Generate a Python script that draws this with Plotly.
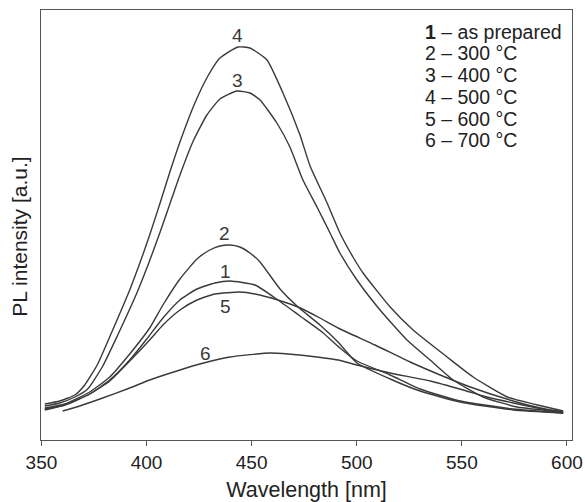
import plotly.graph_objects as go

# Wavelength [nm] and PL intensity [a.u.]
wl_1 = [351.6, 361.1, 373.0, 382.5, 392.0, 400.1, 407.8, 415.9, 424.0, 432.5, 439.7, 451.6, 462.5, 473.0, 483.5, 492.0, 500.1, 515.9, 530.1, 549.2, 574.4, 598.2]
pl_1 = [31, 35, 46, 60, 80, 101, 122, 140, 151, 157, 159, 155, 140, 124, 108, 92, 79, 65, 51, 39, 31, 27]

wl_2 = [351.6, 361.1, 373.0, 382.5, 392.0, 401.5, 407.8, 415.9, 424.0, 430.1, 434.9, 439.7, 444.4, 449.2, 454.0, 463.5, 472.1, 482.5, 491.1, 500.1, 515.9, 530.1, 549.2, 574.4, 598.2]
pl_2 = [32, 36, 48, 63, 86, 112, 135, 161, 181, 190, 194, 195, 193, 187, 178, 151, 133, 115, 98, 77, 61, 49, 38, 30, 27]

wl_3 = [351.6, 358.7, 365.9, 372.0, 379.2, 386.3, 395.4, 401.6, 406.3, 411.1, 415.9, 422.0, 428.7, 434.9, 443.0, 449.2, 454.0, 462.0, 468.2, 474.4, 481.1, 487.3, 492.0, 500.1, 511.1, 523.9, 534.9, 545.9, 560.1, 576.3, 598.2]
pl_3 = [34, 37, 43, 51, 74, 105, 147, 180, 207, 236, 265, 298, 325, 341, 349, 347, 340, 317, 293, 260, 233, 207, 187, 160, 130, 100, 80, 60, 43, 33, 28]

wl_4 = [351.6, 358.7, 365.9, 370.6, 376.8, 383.5, 392.0, 398.2, 401.5, 406.3, 411.1, 415.9, 423.0, 429.2, 434.9, 443.5, 449.2, 457.3, 464.9, 473.0, 477.8, 485.9, 492.0, 498.2, 503.0, 515.9, 526.8, 543.0, 555.4, 571.6, 585.9, 598.2]
pl_4 = [36, 39, 45, 55, 76, 108, 150, 185, 205, 236, 268, 298, 337, 364, 382, 393, 392, 380, 347, 305, 274, 237, 207, 183, 167, 133, 110, 83, 63, 43, 35, 29]

wl_5 = [351.6, 361.1, 373.0, 382.5, 392.0, 401.5, 407.8, 415.9, 424.0, 432.5, 444.4, 451.6, 462.5, 472.1, 482.5, 491.1, 508.7, 525.4, 539.7, 554.0, 574.4, 587.3, 598.2]
pl_5 = [30, 35, 46, 59, 79, 100, 115, 130, 140, 146, 148, 146, 140, 133, 122, 112, 95, 78, 65, 53, 39, 32, 28]

wl_6 = [360.1, 368.2, 377.8, 392.0, 401.5, 415.9, 425.4, 439.7, 458.7, 467.3, 481.1, 491.1, 500.1, 515.9, 534.9, 550.6, 562.0, 574.4, 590.6, 598.2]
pl_6 = [29, 34, 41, 52, 60, 70, 76, 83, 87, 86, 83, 80, 75, 67, 59, 50, 43, 37, 30, 27]

curve_names = ["1", "2", "3", "4", "5", "6"]
legend_lines = ["<b>1</b> – as prepared", "2 – 300 °C", "3 – 400 °C", "4 – 500 °C", "5 – 600 °C", "6 – 700 °C"]
x_ticks = [350, 400, 450, 500, 550, 600]

# curve label anchor points (data units)
label_wl = [437.8, 437.3, 443.4, 443.4, 437.8, 428.2]
label_pl = [169, 207, 360, 405, 134, 87]

series = [(wl_1, pl_1), (wl_2, pl_2), (wl_3, pl_3), (wl_4, pl_4), (wl_5, pl_5), (wl_6, pl_6)]

FONT = "Liberation Sans, Arial, sans-serif"
INK = "#3a3a3a"

fig = go.Figure()
for name, (wx, wy) in zip(curve_names, series):
    fig.add_trace(go.Scatter(x=wx, y=wy, mode="lines", name=name,
                             line=dict(color=INK, width=1.4, shape="spline", smoothing=0.5),
                             showlegend=False))

for name, lx, ly in zip(curve_names, label_wl, label_pl):
    fig.add_annotation(x=lx, y=ly, text=name, showarrow=False,
                       font=dict(family=FONT, size=19, color=INK),
                       xanchor="center", yanchor="middle")

for i, txt in enumerate(legend_lines):
    fig.add_annotation(xref="paper", yref="paper", x=0.719, y=(440 - (31.7 + 21.7 * i)) / 430,
                       text=txt, showarrow=False, xanchor="left", yanchor="middle",
                       font=dict(family=FONT, size=19.5, color="#222"))

# y-axis title (placed slightly below the plot centre as in the reference)
fig.add_annotation(xref="paper", yref="paper", x=-0.042, y=(440 - 237) / 430,
                   text="PL intensity [a.u.]", textangle=-90, showarrow=False,
                   xanchor="center", yanchor="middle",
                   font=dict(family=FONT, size=21, color="#222"))

fig.update_layout(
    width=585, height=502,
    margin=dict(l=41, r=13, t=10, b=62),
    paper_bgcolor="white", plot_bgcolor="white",
    font=dict(family=FONT, color="#222"),
    xaxis=dict(range=[349.8, 602.4], tickvals=x_ticks, ticks="outside", ticklen=5,
               tickcolor="#555", tickwidth=1.2, showline=True, linecolor="#555", linewidth=1.3,
               mirror=True, showgrid=False, zeroline=False, automargin=False,
               tickfont=dict(family=FONT, size=19, color="#222"),
               title=dict(text="Wavelength [nm]", font=dict(family=FONT, size=21.5, color="#222"), standoff=12)),
    yaxis=dict(range=[0, 430], showticklabels=False, ticks="", showline=True, linecolor="#555",
               linewidth=1.3, mirror=True, showgrid=False, zeroline=False, automargin=False),
)

fig.write_html("out.html")
